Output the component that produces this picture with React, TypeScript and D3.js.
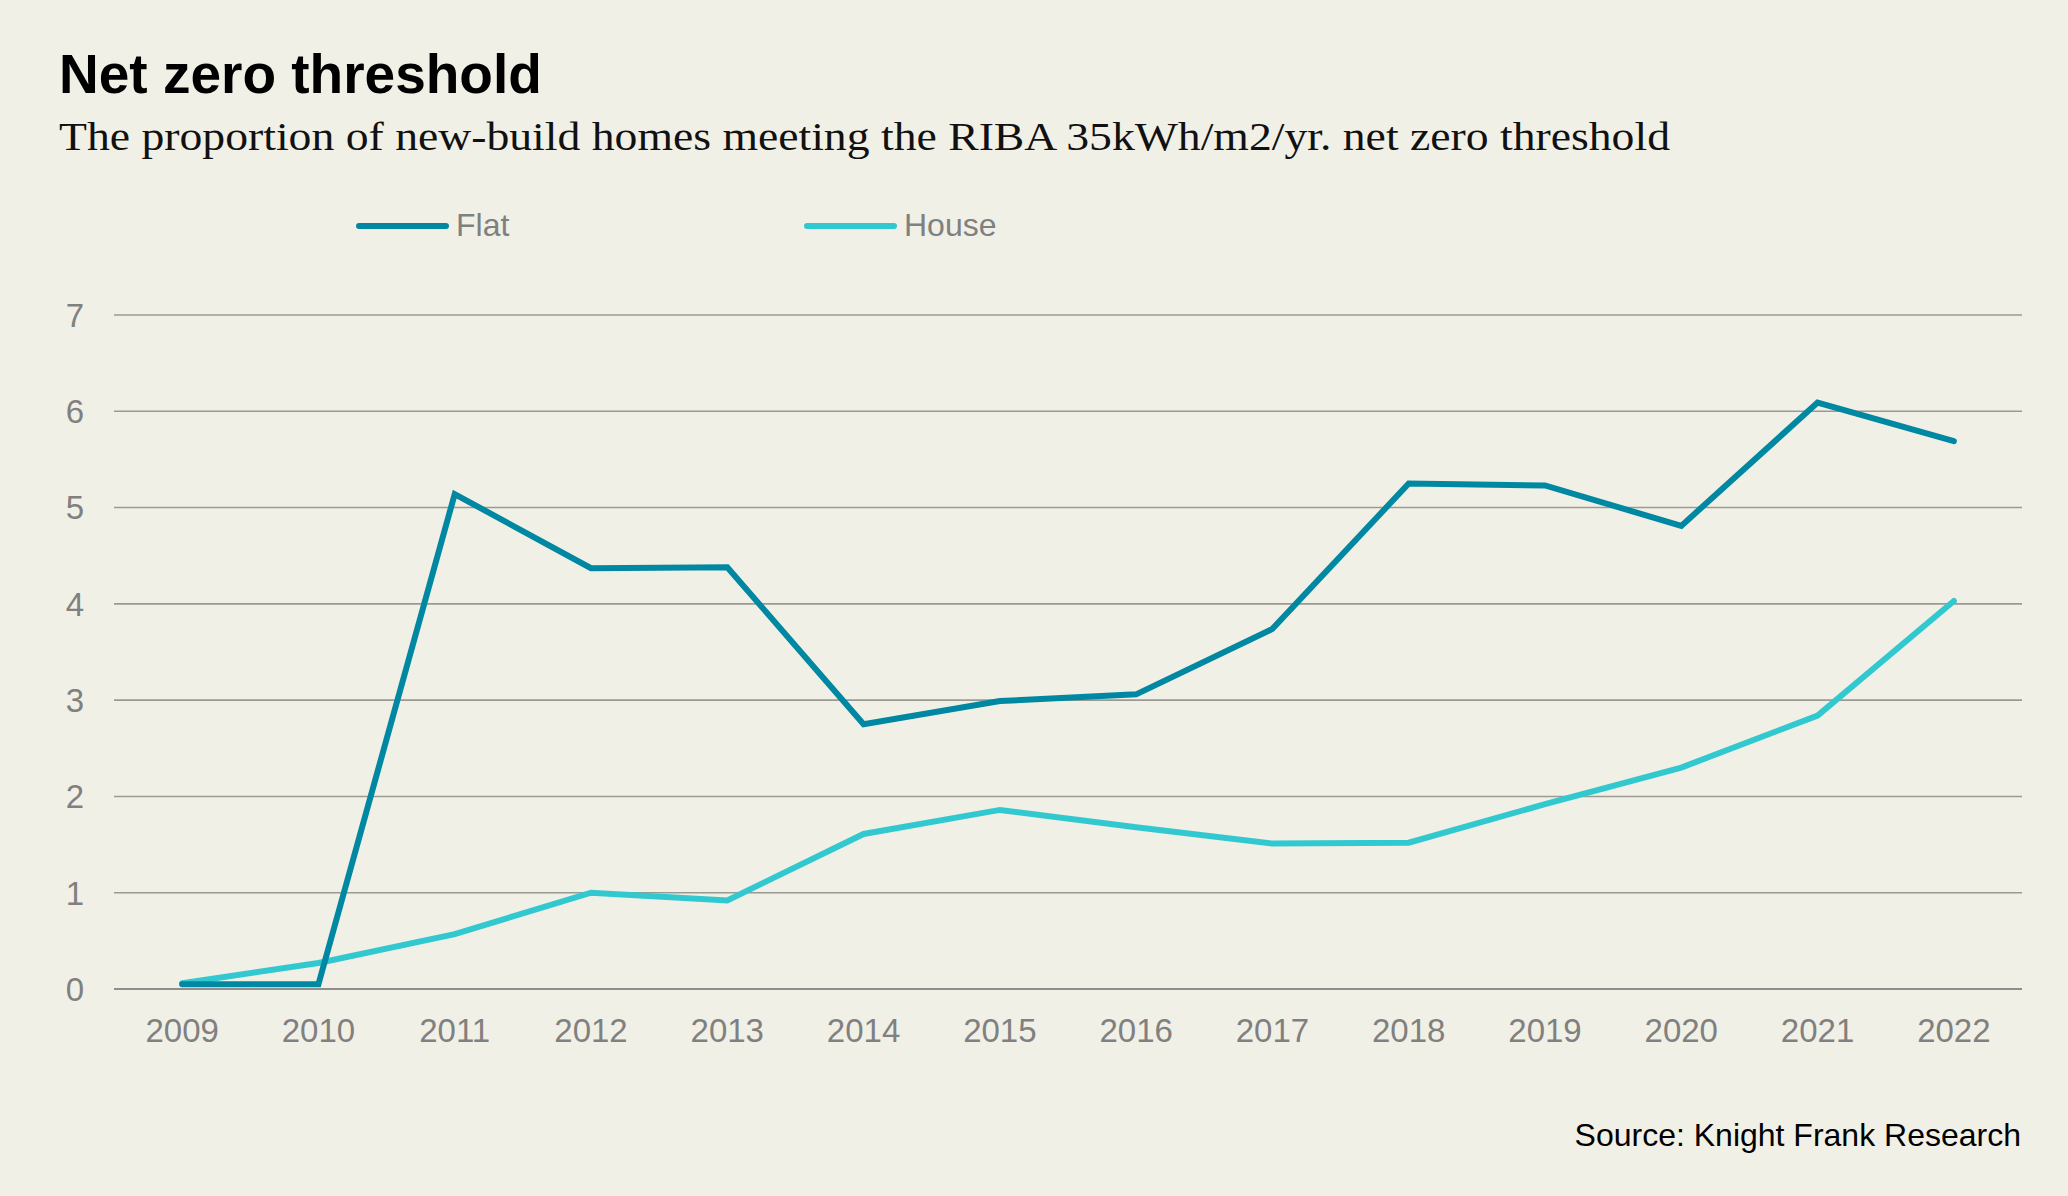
import React, { useEffect, useRef } from 'react';
import * as d3 from 'd3';

const years = ['2009', '2010', '2011', '2012', '2013', '2014', '2015', '2016', '2017', '2018', '2019', '2020', '2021', '2022'];
const flat = [0.05, 0.05, 5.14, 4.37, 4.38, 2.75, 2.99, 3.06, 3.74, 5.25, 5.23, 4.81, 6.09, 5.69];
const house = [0.06, 0.27, 0.57, 1.0, 0.92, 1.61, 1.86, 1.68, 1.51, 1.52, 1.92, 2.3, 2.84, 4.03];
const yTicks = [0, 1, 2, 3, 4, 5, 6, 7];

const series = [
	{ name: 'Flat', values: flat, color: '#0088a2' },
	{ name: 'House', values: house, color: '#31c9cf' },
];

const width = 2068;
const height = 1196;
const margin = { top: 315, right: 46, bottom: 207, left: 114 };
const sans = '"Liberation Sans", Arial, sans-serif';

export default function App() {
	const ref = useRef<SVGSVGElement>(null);

	useEffect(() => {
		const svg = d3.select(ref.current);
		svg.selectAll('*').remove();

		svg.append('rect').attr('width', width).attr('height', height).attr('fill', '#f1f0e6');

		const x = d3.scalePoint()
			.domain(years)
			.range([margin.left, width - margin.right])
			.padding(0.5);

		const y = d3.scaleLinear()
			.domain([0, 7])
			.range([height - margin.bottom, margin.top]);

		// titles
		svg.append('text')
			.attr('x', 59).attr('y', 93)
			.attr('font-family', sans).attr('font-weight', 'bold')
			.attr('font-size', 55).attr('fill', '#000')
			.text('Net zero threshold');

		svg.append('text')
			.attr('x', 59).attr('y', 150)
			.attr('font-family', '"Liberation Serif", Georgia, serif')
			.attr('font-size', 41).attr('fill', '#111')
			.attr('textLength', 1611).attr('lengthAdjust', 'spacingAndGlyphs')
			.text('The proportion of new-build homes meeting the RIBA 35kWh/m2/yr. net zero threshold');

		// legend
		const legendX = [359, 807];
		series.forEach((s, i) => {
			const g = svg.append('g').attr('transform', `translate(${legendX[i]},226)`);
			g.append('line').attr('x1', 0).attr('x2', 87)
				.attr('stroke', s.color).attr('stroke-width', 6).attr('stroke-linecap', 'round');
			g.append('text').attr('x', 97).attr('y', 10)
				.attr('font-family', sans).attr('font-size', 32).attr('fill', '#808080')
				.text(s.name);
		});

		// gridlines + y labels
		const grid = svg.append('g');
		grid.selectAll('line')
			.data(yTicks)
			.join('line')
			.attr('x1', margin.left).attr('x2', width - margin.right)
			.attr('y1', d => y(d)).attr('y2', d => y(d))
			.attr('stroke', d => d === 0 ? '#6e6e6e' : '#9a9a94')
			.attr('stroke-width', 1.6);

		grid.selectAll('text')
			.data(yTicks)
			.join('text')
			.attr('x', 84).attr('y', d => y(d))
			.attr('dy', '0.36em').attr('text-anchor', 'end')
			.attr('font-family', sans).attr('font-size', 33).attr('fill', '#808080')
			.text(d => d);

		// x labels
		svg.append('g').selectAll('text')
			.data(years)
			.join('text')
			.attr('x', d => x(d) as number).attr('y', 1042)
			.attr('text-anchor', 'middle')
			.attr('font-family', sans).attr('font-size', 33).attr('fill', '#808080')
			.text(d => d);

		// lines
		const line = d3.line<number>()
			.x((_, i) => x(years[i]) as number)
			.y(d => y(d));

		series.slice().reverse().forEach(s => {
			svg.append('path')
				.attr('d', line(s.values))
				.attr('fill', 'none')
				.attr('stroke', s.color)
				.attr('stroke-width', 6)
				.attr('stroke-linecap', 'round')
				.attr('stroke-linejoin', 'miter');
		});

		svg.append('text')
			.attr('x', 2021).attr('y', 1146)
			.attr('text-anchor', 'end')
			.attr('font-family', sans).attr('font-size', 32).attr('fill', '#000')
			.text('Source: Knight Frank Research');
	}, []);

	return (
		<svg ref={ref} width={width} height={height}
			style={{ position: 'absolute', left: 0, top: 0, display: 'block' }} />
	);
}
